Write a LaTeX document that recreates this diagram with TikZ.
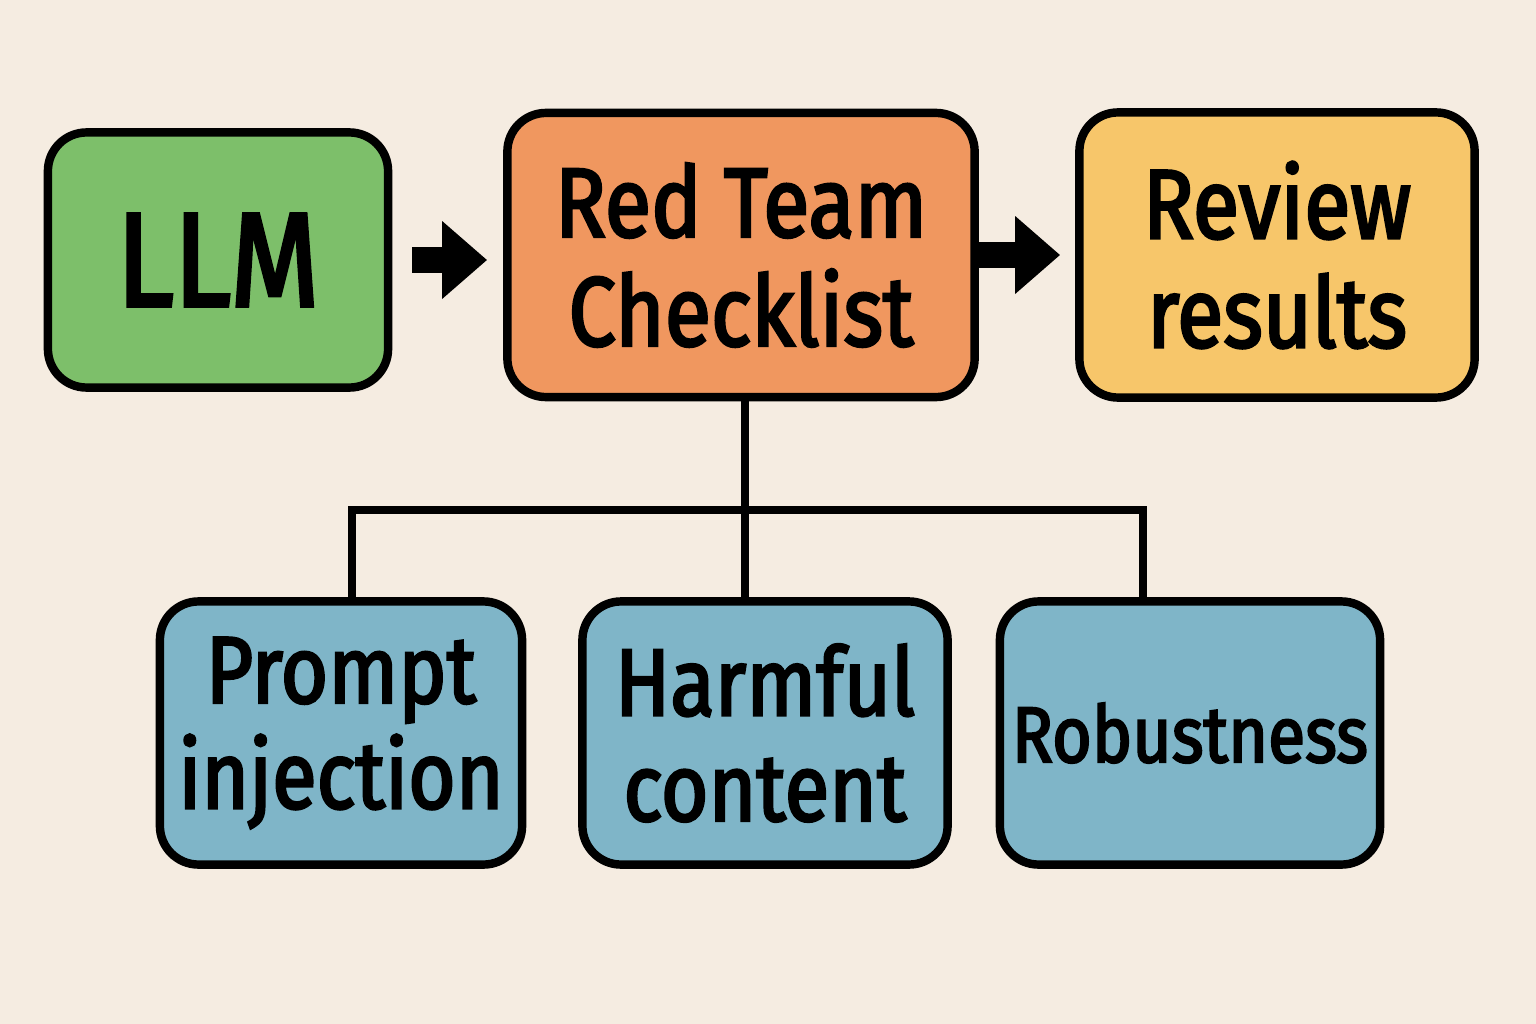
\documentclass[tikz,border=0pt]{standalone}
\usepackage{fontspec}
\setmainfont{Fira Sans}
\newfontfamily\handfont{Fira Sans}[FakeStretch=0.86,FakeBold=2.6]
\usetikzlibrary{arrows.meta}
\definecolor{bgcol}{HTML}{F5ECE1}
\definecolor{llmgreen}{HTML}{7DBF6A}
\definecolor{teamorange}{HTML}{F0975F}
\definecolor{reviewyellow}{HTML}{F7C66A}
\definecolor{testblue}{HTML}{7FB5C8}
\begin{document}
\begin{tikzpicture}[x=0.01cm,y=-0.01cm,
    box/.style={draw=black,line width=2.4pt,rounded corners=11pt,align=center,inner sep=0pt,
      font=\handfont\fontsize{28}{31}\selectfont},
    link/.style={draw=black,line width=2.4pt},
    fat/.style={line width=0.25cm,-{Triangle[length=0.45cm,width=0.75cm]}}]
        \fill[bgcol](0,0)rectangle(1536,1024);
        \node[box,fill=llmgreen,minimum width=3.4cm,minimum height=2.55cm,font=\handfont\fontsize{38}{40}\selectfont](llm)at(218,260){LLM};
        \node[box,fill=teamorange,minimum width=4.67cm,minimum height=2.84cm](check)at(741,255){Red Team\\Checklist};
        \node[box,fill=reviewyellow,minimum width=3.95cm,minimum height=2.85cm](review)at(1277,255){Review\\results};
        \node[box,fill=testblue,minimum width=3.62cm,minimum height=2.63cm,font=\handfont\fontsize{27}{30}\selectfont](inject)at(341,733){Prompt\\injection};
        \node[box,fill=testblue,minimum width=3.65cm,minimum height=2.63cm,font=\handfont\fontsize{27}{30}\selectfont](harm)at(765,733){Harmful\\content};
        \node[box,fill=testblue,minimum width=3.8cm,minimum height=2.63cm,font=\handfont\fontsize{22.5}{26}\selectfont](robust)at(1190,733){Robustness};
        \draw[fat,shorten <=0.2cm,shorten >=0.16cm](llm.east)--(llm.east-|check.west);
        \draw[fat,shorten >=0.15cm](check.east)--(check.east-|review.west);
        \coordinate(bus)at(745,510);
        \draw[link](bus|-check.south)--(bus);
        \draw[link]([xshift=0.11cm]inject.north)|-(bus)-|([xshift=-0.47cm]robust.north);
        \draw[link](bus)--(bus|-harm.north);
    \end{tikzpicture}
\end{document}
